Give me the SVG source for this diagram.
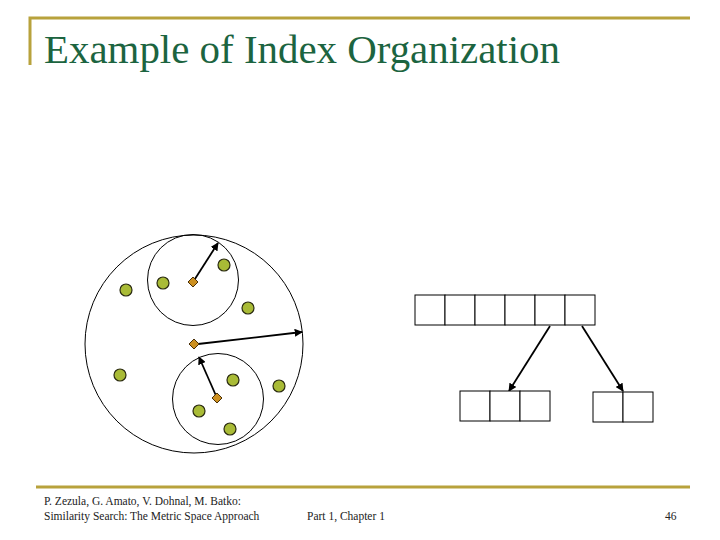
<svg xmlns="http://www.w3.org/2000/svg" width="720" height="540" viewBox="0 0 720 540">
<style>
.rule{stroke:#b8a23c;stroke-width:3;fill:none}
.title{font-family:"Liberation Serif","Times New Roman",serif;font-size:39px;fill:#1c6440}
.foot{font-family:"Liberation Serif","Times New Roman",serif;font-size:11.5px;fill:#222}
.ring{fill:none;stroke:#000;stroke-width:1}
.dot{fill:#a9bb36;stroke:#2a2a10;stroke-width:1.2}
.piv{fill:#cc9020;stroke:#4a3008;stroke-width:1}
.cell{fill:#fff;stroke:#000;stroke-width:1}
.arr{stroke:#000;stroke-width:1.8;fill:none;marker-end:url(#ah)}
</style>
<defs>
<marker id="ah" viewBox="0 0 10 10" refX="9" refY="5" markerWidth="4.5" markerHeight="4.5" orient="auto" markerUnits="strokeWidth">
<path d="M0,0 L10,5 L0,10 z" fill="#000"/>
</marker>
</defs>
<rect width="720" height="540" fill="#fff"/>
<g id="frame">
<path class="rule" d="M30,65 V18 H690"/>
<line class="rule" x1="36" y1="487" x2="690" y2="487"/>
</g>
<text class="title" x="44" y="63" textLength="516" lengthAdjust="spacingAndGlyphs">Example of Index Organization</text>
<g id="footer">
<text class="foot" x="44" y="505">P. Zezula, G. Amato, V. Dohnal, M. Batko:</text>
<text class="foot" x="44" y="520">Similarity Search: The Metric Space Approach</text>
<text class="foot" x="307" y="520">Part 1, Chapter 1</text>
<text class="foot" x="665" y="520">46</text>
</g>
<g id="regions">
<circle id="outer" class="ring" cx="194" cy="344" r="109"/>
<circle id="upper" class="ring" cx="193" cy="280" r="45.5"/>
<circle id="lower" class="ring" cx="218" cy="399" r="45.5"/>
</g>
<g id="connectors">
<line class="arr" x1="193" y1="282" x2="218" y2="243"/>
<line class="arr" x1="198" y1="344" x2="302" y2="332"/>
<line class="arr" x1="217" y1="398" x2="199" y2="357"/>
<line class="arr" x1="550" y1="326" x2="509" y2="391"/>
<line class="arr" x1="582" y1="326" x2="623" y2="391"/>
</g>
<g id="objects">
<circle class="dot" cx="126" cy="290" r="6"/>
<circle class="dot" cx="163" cy="283" r="6"/>
<circle class="dot" cx="224" cy="265" r="6"/>
<circle class="dot" cx="248" cy="308" r="6"/>
<circle class="dot" cx="120" cy="375" r="6"/>
<circle class="dot" cx="233" cy="380" r="6"/>
<circle class="dot" cx="279" cy="386" r="6"/>
<circle class="dot" cx="199" cy="411" r="6"/>
<circle class="dot" cx="230" cy="429" r="6"/>
</g>
<g id="pivots">
<path class="piv" d="M193,277 L198,282 L193,287 L188,282 z"/>
<path class="piv" d="M194,339 L199,344 L194,349 L189,344 z"/>
<path class="piv" d="M217,393 L222,398 L217,403 L212,398 z"/>
</g>
<g id="root-node">
<rect class="cell" x="415" y="295" width="30" height="30"/>
<rect class="cell" x="445" y="295" width="30" height="30"/>
<rect class="cell" x="475" y="295" width="30" height="30"/>
<rect class="cell" x="505" y="295" width="30" height="30"/>
<rect class="cell" x="535" y="295" width="30" height="30"/>
<rect class="cell" x="565" y="295" width="30" height="30"/>
</g>
<g id="leaf-left">
<rect class="cell" x="460" y="391" width="30" height="30"/>
<rect class="cell" x="490" y="391" width="30" height="30"/>
<rect class="cell" x="520" y="391" width="30" height="30"/>
</g>
<g id="leaf-right">
<rect class="cell" x="593" y="392" width="30" height="30"/>
<rect class="cell" x="623" y="392" width="30" height="30"/>
</g>
</svg>
